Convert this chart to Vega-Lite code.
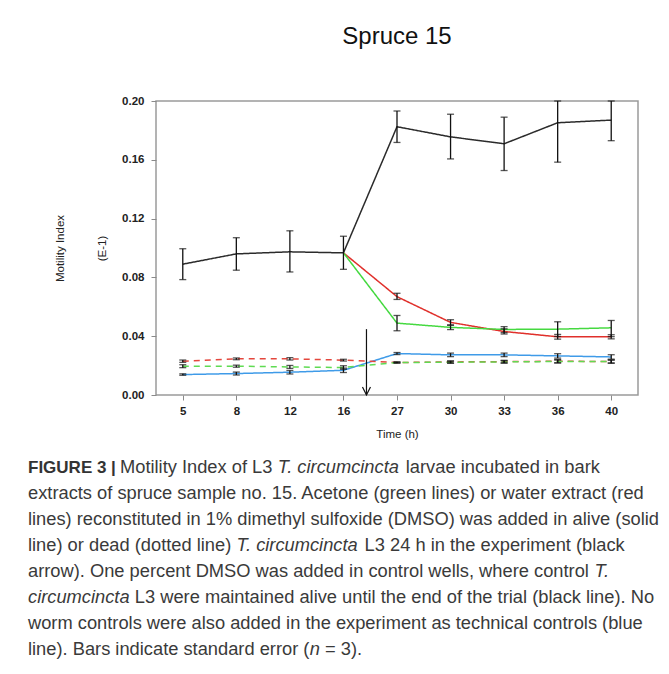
{
  "$schema": "https://vega.github.io/schema/vega-lite/v6.json",
  "background": "white",
  "padding": {"left": 28, "top": 24, "right": 5, "bottom": 5},
  "bounds": "flush",
  "spacing": 60,
  "config": {"font": "Liberation Sans", "view": {"stroke": null}},
  "datasets": {
    "series": [
      {"series": "control", "t": "5", "i": 0, "y": 0.089, "lo": 0.0785, "hi": 0.0995},
      {"series": "control", "t": "8", "i": 1, "y": 0.096, "lo": 0.0849, "hi": 0.107},
      {"series": "control", "t": "12", "i": 2, "y": 0.0974, "lo": 0.0837, "hi": 0.1117},
      {"series": "control", "t": "16", "i": 3, "y": 0.0967, "lo": 0.0855, "hi": 0.108},
      {"series": "control", "t": "27", "i": 4, "y": 0.1825, "lo": 0.1718, "hi": 0.1932},
      {"series": "control", "t": "30", "i": 5, "y": 0.1756, "lo": 0.1606, "hi": 0.191},
      {"series": "control", "t": "33", "i": 6, "y": 0.1709, "lo": 0.1527, "hi": 0.189},
      {"series": "control", "t": "36", "i": 7, "y": 0.1852, "lo": 0.1584, "hi": 0.2},
      {"series": "control", "t": "40", "i": 8, "y": 0.187, "lo": 0.173, "hi": 0.2},
      {"series": "water_alive", "t": "16", "i": 3, "y": 0.0967, "lo": null, "hi": null},
      {"series": "water_alive", "t": "27", "i": 4, "y": 0.0669, "lo": 0.065, "hi": 0.0692},
      {"series": "water_alive", "t": "30", "i": 5, "y": 0.0494, "lo": 0.0476, "hi": 0.0512},
      {"series": "water_alive", "t": "33", "i": 6, "y": 0.0432, "lo": 0.0415, "hi": 0.045},
      {"series": "water_alive", "t": "36", "i": 7, "y": 0.0396, "lo": 0.038, "hi": 0.0412},
      {"series": "water_alive", "t": "40", "i": 8, "y": 0.0396, "lo": 0.0382, "hi": 0.041},
      {"series": "acetone_alive", "t": "16", "i": 3, "y": 0.0967, "lo": null, "hi": null},
      {"series": "acetone_alive", "t": "27", "i": 4, "y": 0.0489, "lo": 0.0437, "hi": 0.0541},
      {"series": "acetone_alive", "t": "30", "i": 5, "y": 0.046, "lo": 0.0445, "hi": 0.0475},
      {"series": "acetone_alive", "t": "33", "i": 6, "y": 0.0446, "lo": 0.0425, "hi": 0.0465},
      {"series": "acetone_alive", "t": "36", "i": 7, "y": 0.0448, "lo": 0.0398, "hi": 0.0498},
      {"series": "acetone_alive", "t": "40", "i": 8, "y": 0.0457, "lo": 0.0397, "hi": 0.0507},
      {"series": "blank", "t": "5", "i": 0, "y": 0.0139, "lo": 0.0134, "hi": 0.0144},
      {"series": "blank", "t": "8", "i": 1, "y": 0.0146, "lo": 0.0136, "hi": 0.0156},
      {"series": "blank", "t": "12", "i": 2, "y": 0.0155, "lo": 0.0143, "hi": 0.0167},
      {"series": "blank", "t": "16", "i": 3, "y": 0.0168, "lo": 0.0153, "hi": 0.0183},
      {"series": "blank", "t": "27", "i": 4, "y": 0.0282, "lo": 0.0275, "hi": 0.0289},
      {"series": "blank", "t": "30", "i": 5, "y": 0.0273, "lo": 0.0261, "hi": 0.0285},
      {"series": "blank", "t": "33", "i": 6, "y": 0.0273, "lo": 0.0261, "hi": 0.0285},
      {"series": "blank", "t": "36", "i": 7, "y": 0.0266, "lo": 0.0251, "hi": 0.0281},
      {"series": "blank", "t": "40", "i": 8, "y": 0.0259, "lo": 0.0244, "hi": 0.0274},
      {"series": "water_dead", "t": "5", "i": 0, "y": 0.023, "lo": 0.0222, "hi": 0.0238},
      {"series": "water_dead", "t": "8", "i": 1, "y": 0.0246, "lo": 0.024, "hi": 0.0252},
      {"series": "water_dead", "t": "12", "i": 2, "y": 0.0246, "lo": 0.0238, "hi": 0.0254},
      {"series": "water_dead", "t": "16", "i": 3, "y": 0.0237, "lo": 0.0231, "hi": 0.0243},
      {"series": "water_dead", "t": "27", "i": 4, "y": 0.0221, "lo": 0.0217, "hi": 0.0225},
      {"series": "water_dead", "t": "30", "i": 5, "y": 0.0225, "lo": 0.0218, "hi": 0.0232},
      {"series": "water_dead", "t": "33", "i": 6, "y": 0.0227, "lo": 0.0218, "hi": 0.0236},
      {"series": "water_dead", "t": "36", "i": 7, "y": 0.023, "lo": 0.0219, "hi": 0.0241},
      {"series": "water_dead", "t": "40", "i": 8, "y": 0.0227, "lo": 0.0216, "hi": 0.0238},
      {"series": "acetone_dead", "t": "5", "i": 0, "y": 0.0196, "lo": 0.0186, "hi": 0.0206},
      {"series": "acetone_dead", "t": "8", "i": 1, "y": 0.0196, "lo": 0.0189, "hi": 0.0203},
      {"series": "acetone_dead", "t": "12", "i": 2, "y": 0.0191, "lo": 0.0181, "hi": 0.0201},
      {"series": "acetone_dead", "t": "16", "i": 3, "y": 0.0187, "lo": 0.0175, "hi": 0.0199},
      {"series": "acetone_dead", "t": "27", "i": 4, "y": 0.0221, "lo": 0.0218, "hi": 0.0224},
      {"series": "acetone_dead", "t": "30", "i": 5, "y": 0.0223, "lo": 0.0216, "hi": 0.023},
      {"series": "acetone_dead", "t": "33", "i": 6, "y": 0.0225, "lo": 0.0217, "hi": 0.0233},
      {"series": "acetone_dead", "t": "36", "i": 7, "y": 0.0228, "lo": 0.0218, "hi": 0.0238},
      {"series": "acetone_dead", "t": "40", "i": 8, "y": 0.0228, "lo": 0.0218, "hi": 0.0238}
    ],
    "arrow": [
      {"label": "extract added (24 h)", "ax": 3.43, "top": 0.0448, "tip": 0}
    ],
    "caption": [
      {"line": 1, "part": "fig", "text": "FIGURE 3 |"},
      {"line": 1, "part": "l1a", "text": "Motility Index of L3"},
      {"line": 1, "part": "l1i", "text": "T. circumcincta"},
      {"line": 1, "part": "l1b", "text": "larvae incubated in bark"},
      {"line": 2, "part": "s", "text": "extracts of spruce sample no. 15. Acetone (green lines) or water extract (red"},
      {"line": 3, "part": "s", "text": "lines) reconstituted in 1% dimethyl sulfoxide (DMSO) was added in alive (solid"},
      {"line": 4, "part": "s", "text": "line) or dead (dotted line)"},
      {"line": 4, "part": "l4i", "text": "T. circumcincta"},
      {"line": 4, "part": "l4b", "text": "L3 24 h in the experiment (black"},
      {"line": 5, "part": "s", "text": "arrow). One percent DMSO was added in control wells, where control"},
      {"line": 5, "part": "l5i", "text": "T."},
      {"line": 6, "part": "si", "text": "circumcincta"},
      {"line": 6, "part": "l6b", "text": "L3 were maintained alive until the end of the trial (black line). No"},
      {"line": 7, "part": "s", "text": "worm controls were also added in the experiment as technical controls (blue"},
      {"line": 8, "part": "s", "text": "line). Bars indicate standard error ("},
      {"line": 8, "part": "l8i", "text": "n"},
      {"line": 8, "part": "l8b", "text": "= 3)."}
    ]
  },
  "vconcat": [
    {
      "width": 482,
      "height": 294,
      "view": {"stroke": "#9a9a9a", "strokeWidth": 1.5},
      "title": {"text": "Spruce 15", "fontSize": 24, "fontWeight": "normal", "font": "Liberation Sans", "color": "#111111", "anchor": "middle", "frame": "group", "offset": 46},
      "layer": [
        {
          "data": {"name": "series"},
          "mark": {"type": "line", "strokeWidth": 1.5},
          "encoding": {
            "x": {"field": "i", "type": "quantitative", "scale": {"domain": [-0.5, 8.5], "nice": false, "zero": false},
              "axis": {"values": [0, 1, 2, 3, 4, 5, 6, 7, 8], "labelExpr": "['5','8','12','16','27','30','33','36','40'][datum.value]", "title": "Time (h)", "grid": false, "domain": false, "tickSize": 5, "tickColor": "#8a8a8a", "labelFontWeight": "bold", "labelFontSize": 11.5, "labelColor": "#222222", "labelPadding": 5, "titleFontSize": 11.5, "titleFontWeight": "normal", "titleColor": "#222222", "titlePadding": 12}},
            "y": {"field": "y", "type": "quantitative", "scale": {"domain": [0, 0.2], "nice": false},
              "axis": {"values": [0, 0.04, 0.08, 0.12, 0.16, 0.2], "format": ".2f", "title": ["Motility Index", "(E-1)"], "titleLineHeight": 42, "grid": false, "domain": false, "tickSize": 5, "tickColor": "#8a8a8a", "labelFontWeight": "bold", "labelFontSize": 11.5, "labelColor": "#222222", "labelPadding": 7, "titleFontSize": 11.5, "titleFontWeight": "normal", "titleColor": "#222222", "titlePadding": 14}},
            "color": {"field": "series", "type": "nominal", "legend": null,
              "scale": {"domain": ["control", "water_alive", "acetone_alive", "blank", "water_dead", "acetone_dead"], "range": ["#2b2b2b", "#e0302b", "#45d940", "#3f9be8", "#e4473d", "#5fdb52"]}},
            "strokeDash": {"field": "series", "type": "nominal", "legend": null,
              "scale": {"domain": ["control", "water_alive", "acetone_alive", "blank", "water_dead", "acetone_dead"], "range": [[1, 0], [1, 0], [1, 0], [1, 0], [6, 5], [6, 5]]}}
          }
        },
        {
          "data": {"name": "series"},
          "transform": [{"filter": "datum.lo != null"}],
          "mark": {"type": "rule", "color": "#111111", "strokeWidth": 1.3},
          "encoding": {
            "x": {"field": "i", "type": "quantitative"},
            "y": {"field": "lo", "type": "quantitative"},
            "y2": {"field": "hi"}
          }
        },
        {
          "data": {"name": "series"},
          "transform": [{"filter": "datum.lo != null"}],
          "mark": {"type": "tick", "orient": "horizontal", "color": "#111111", "size": 7, "thickness": 1.3},
          "encoding": {
            "x": {"field": "i", "type": "quantitative"},
            "y": {"field": "lo", "type": "quantitative"}
          }
        },
        {
          "data": {"name": "series"},
          "transform": [{"filter": "datum.hi != null"}],
          "mark": {"type": "tick", "orient": "horizontal", "color": "#111111", "size": 7, "thickness": 1.3},
          "encoding": {
            "x": {"field": "i", "type": "quantitative"},
            "y": {"field": "hi", "type": "quantitative"}
          }
        },
        {
          "data": {"name": "arrow"},
          "mark": {"type": "rule", "color": "#111111", "strokeWidth": 1.2},
          "encoding": {
            "x": {"field": "ax", "type": "quantitative"},
            "y": {"field": "top", "type": "quantitative"},
            "y2": {"field": "tip"}
          }
        },
        {
          "data": {"name": "arrow"},
          "mark": {"type": "point", "shape": "M -1 -2 L 0 0 L 1 -2", "size": 64, "filled": false, "stroke": "#111111", "strokeWidth": 1.2, "opacity": 1},
          "encoding": {
            "x": {"field": "ax", "type": "quantitative"},
            "y": {"field": "tip", "type": "quantitative"}
          }
        }
      ]
    },
    {
      "width": 482,
      "height": 208,
      "data": {"name": "caption"},
      "encoding": {
        "y": {"field": "line", "type": "ordinal", "axis": null, "scale": {"type": "band", "paddingInner": 0, "paddingOuter": 0}},
        "x": {"value": -128},
        "text": {"field": "text"}
      },
      "layer": [
        {"transform": [{"filter": "datum.part == 'fig'"}],
         "mark": {"type": "text", "align": "left", "baseline": "middle", "fontSize": 17, "fontWeight": "bold", "color": "#333333", "font": "Liberation Sans"}},
        {"transform": [{"filter": "datum.part == 's'"}],
         "mark": {"type": "text", "align": "left", "baseline": "middle", "fontSize": 18.3, "color": "#3a3a3a", "font": "Liberation Sans"}},
        {"transform": [{"filter": "datum.part == 'si'"}],
         "mark": {"type": "text", "align": "left", "baseline": "middle", "fontSize": 18.3, "fontStyle": "italic", "color": "#3a3a3a", "font": "Liberation Sans"}},
        {"transform": [{"filter": "datum.part == 'l1a'"}],
         "mark": {"type": "text", "align": "left", "baseline": "middle", "fontSize": 18.3, "color": "#3a3a3a", "font": "Liberation Sans", "dx": 92}},
        {"transform": [{"filter": "datum.part == 'l1i'"}],
         "mark": {"type": "text", "align": "left", "baseline": "middle", "fontSize": 18.3, "fontStyle": "italic", "color": "#3a3a3a", "font": "Liberation Sans", "dx": 249.7}},
        {"transform": [{"filter": "datum.part == 'l1b'"}],
         "mark": {"type": "text", "align": "left", "baseline": "middle", "fontSize": 18.3, "color": "#3a3a3a", "font": "Liberation Sans", "dx": 377.8}},
        {"transform": [{"filter": "datum.part == 'l4i'"}],
         "mark": {"type": "text", "align": "left", "baseline": "middle", "fontSize": 18.3, "fontStyle": "italic", "color": "#3a3a3a", "font": "Liberation Sans", "dx": 208.5}},
        {"transform": [{"filter": "datum.part == 'l4b'"}],
         "mark": {"type": "text", "align": "left", "baseline": "middle", "fontSize": 18.3, "color": "#3a3a3a", "font": "Liberation Sans", "dx": 336.6}},
        {"transform": [{"filter": "datum.part == 'l5i'"}],
         "mark": {"type": "text", "align": "left", "baseline": "middle", "fontSize": 18.3, "fontStyle": "italic", "color": "#3a3a3a", "font": "Liberation Sans", "dx": 566.5}},
        {"transform": [{"filter": "datum.part == 'l6b'"}],
         "mark": {"type": "text", "align": "left", "baseline": "middle", "fontSize": 18.3, "color": "#3a3a3a", "font": "Liberation Sans", "dx": 106.8}},
        {"transform": [{"filter": "datum.part == 'l8i'"}],
         "mark": {"type": "text", "align": "left", "baseline": "middle", "fontSize": 18.3, "fontStyle": "italic", "color": "#3a3a3a", "font": "Liberation Sans", "dx": 281.7}},
        {"transform": [{"filter": "datum.part == 'l8b'"}],
         "mark": {"type": "text", "align": "left", "baseline": "middle", "fontSize": 18.3, "color": "#3a3a3a", "font": "Liberation Sans", "dx": 297}}
      ]
    }
  ]
}
